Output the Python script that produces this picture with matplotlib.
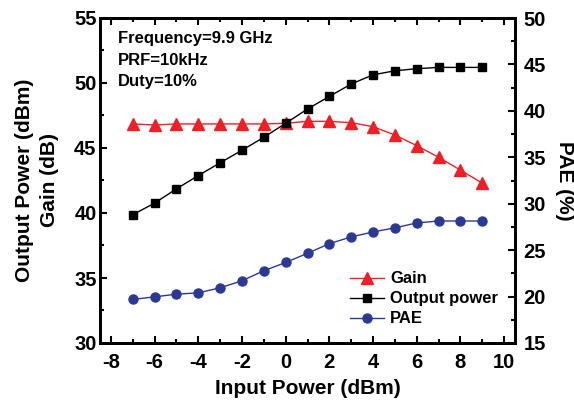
import matplotlib
matplotlib.use("Agg")
import matplotlib.pyplot as plt
from matplotlib.ticker import MultipleLocator

plt.rcParams['font.family'] = ['Liberation Sans', 'DejaVu Sans']
plt.rcParams['font.weight'] = 'bold'
plt.rcParams['axes.unicode_minus'] = False

input_power = [-7, -6, -5, -4, -3, -2, -1, 0, 1, 2, 3, 4, 5, 6, 7, 8, 9]
gain = [46.85, 46.77, 46.85, 46.85, 46.85, 46.85, 46.85, 46.9, 47.05, 47.05, 46.95,
        46.64, 46.0, 45.18, 44.29, 43.3, 42.3]
output_power = [39.87, 40.76, 41.86, 42.88, 43.86, 44.83, 45.82, 46.9, 48.0, 48.97,
                49.92, 50.63, 50.94, 51.1, 51.2, 51.2, 51.2]
pae = [19.69, 19.97, 20.26, 20.4, 20.94, 21.7, 22.78, 23.67, 24.66, 25.7, 26.42,
       26.96, 27.4, 27.93, 28.14, 28.14, 28.14]

RED = '#EC2027'
BLUE = '#2B3990'

fig = plt.figure(figsize=(5.74, 4.04), dpi=100)
ax = fig.add_axes([100/574, 61/404, 415/574, 325/404])
ax2 = ax.twinx()

l1, = ax.plot(input_power, gain, color=RED, marker='^', markersize=8, lw=1.0, label='Gain')
l2, = ax.plot(input_power, output_power, color='black', marker='s', markersize=6, lw=1.0,
              label='Output power')
l3, = ax2.plot(input_power, pae, color=BLUE, marker='o', markersize=6.5, lw=1.0, label='PAE')

ax.set_xlim(-8.5, 10.5)
ax.set_ylim(30, 55)
ax2.set_ylim(15, 50)

ax.xaxis.set_major_locator(MultipleLocator(2))
ax.xaxis.set_minor_locator(MultipleLocator(1))
ax.yaxis.set_major_locator(MultipleLocator(5))
ax.yaxis.set_minor_locator(MultipleLocator(2.5))
ax2.yaxis.set_major_locator(MultipleLocator(5))
ax2.yaxis.set_minor_locator(MultipleLocator(2.5))

for a in (ax, ax2):
    for s in a.spines.values():
        s.set_linewidth(2)
ax.tick_params(axis='both', which='both', direction='in', width=1.5, labelsize=14.5)
ax.tick_params(axis='x', which='both', top=True, pad=7)
ax.tick_params(axis='y', which='both', right=False, pad=2.5)
ax.tick_params(which='major', length=5)
ax.tick_params(which='minor', length=3)
ax2.tick_params(axis='y', which='both', direction='in', width=1.5, labelsize=14.5, pad=6)
ax2.tick_params(which='major', length=5)
ax2.tick_params(which='minor', length=3)
for lab in ax.get_xticklabels() + ax.get_yticklabels() + ax2.get_yticklabels():
    lab.set_fontweight('bold')

ax.set_xlabel('Input Power (dBm)', fontsize=15, fontweight='bold', labelpad=5)
ax.set_ylabel('Output Power (dBm)\nGain (dB)', fontsize=15, fontweight='bold', labelpad=11,
              linespacing=1.35)
ax2.set_ylabel('PAE (%)', fontsize=15, fontweight='bold', rotation=270, labelpad=20)

ax.text(0.043, 0.96, 'Frequency=9.9 GHz\nPRF=10kHz\nDuty=10%', transform=ax.transAxes,
        fontsize=12, fontweight='bold', va='top', ha='left', linespacing=1.55)

ax.legend(handles=[l1, l2, l3], loc='lower right', bbox_to_anchor=(1.0, 0.0),
          frameon=False, fontsize=12, handlelength=2.0, handletextpad=0.4,
          labelspacing=0.3, borderaxespad=0.6)

fig.savefig('out.png', dpi=100)
